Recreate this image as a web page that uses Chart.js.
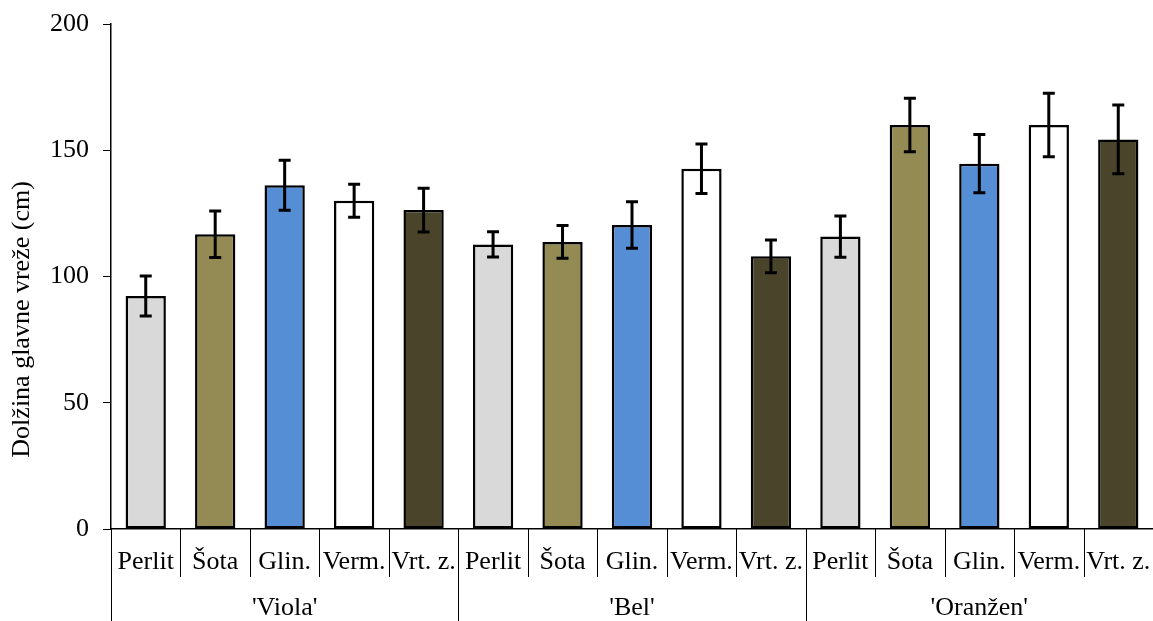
<!DOCTYPE html>
<html lang="sl">
<head>
    <meta charset="UTF-8">
    <title>Dolžina glavne vreže</title>
    <script src="https://cdn.jsdelivr.net/npm/chart.js"></script>
    <style>
        body { margin: 0; background: #fff; }
        #wrap { width: 1153px; height: 621px; }
    </style>
</head>
<body>
    <div id="wrap"><canvas id="vrezaChart"></canvas></div>

    <script>
        // podatki (odčitani s slike)
        const groups = ["'Viola'", "'Bel'", "'Oranžen'"];
        const substrates = ['Perlit', 'Šota', 'Glin.', 'Verm.', 'Vrt. z.'];
        const violaValues = [92.3, 116.7, 136.1, 130.0, 126.3];
        const violaErrors = [7.9, 9.2, 9.9, 6.5, 8.7];
        const belValues = [112.7, 113.7, 120.4, 142.7, 108.0];
        const belErrors = [5.0, 6.5, 9.2, 9.8, 6.5];
        const oranzenValues = [115.8, 160.0, 144.7, 160.0, 154.3];
        const oranzenErrors = [8.2, 10.6, 11.5, 12.6, 13.6];
        const yTicks = [0, 50, 100, 150, 200];
        const yTitle = 'Dolžina glavne vreže (cm)';

        const substrateColors = ['#d9d9d9', '#948a54', '#558ed5', '#ffffff', '#4a452a'];
        const font = 'Liberation Serif';

        const labels = [].concat(substrates, substrates, substrates);
        const values = [].concat(violaValues, belValues, oranzenValues);
        const errors = [].concat(violaErrors, belErrors, oranzenErrors);
        const colors = [].concat(substrateColors, substrateColors, substrateColors);

        // error bars
        const errorBars = {
            id: 'errorBars',
            afterDatasetsDraw(chart) {
                const ctx = chart.ctx;
                const y = chart.scales.y;
                const meta = chart.getDatasetMeta(0);
                ctx.save();
                ctx.strokeStyle = '#000';
                ctx.lineWidth = 3;
                meta.data.forEach((bar, i) => {
                    const top = y.getPixelForValue(values[i] + errors[i]);
                    const bot = y.getPixelForValue(values[i] - errors[i]);
                    ctx.beginPath();
                    ctx.moveTo(bar.x, top); ctx.lineTo(bar.x, bot);
                    ctx.moveTo(bar.x - 6, top); ctx.lineTo(bar.x + 6, top);
                    ctx.moveTo(bar.x - 6, bot); ctx.lineTo(bar.x + 6, bot);
                    ctx.stroke();
                });
                ctx.restore();
            }
        };

        // separators under the x axis, group names, y title
        const groupAxis = {
            id: 'groupAxis',
            afterDraw(chart) {
                const ctx = chart.ctx;
                const x = chart.scales.x;
                const y = chart.scales.y;
                const base = chart.chartArea.bottom;
                const n = labels.length;
                const step = (x.right - x.left) / n;
                ctx.save();
                ctx.strokeStyle = '#000';
                ctx.lineWidth = 1;
                for (let i = 0; i <= n; i++) {
                    const px = Math.round(x.left + i * step) + 0.5;
                    const long = i % substrates.length === 0;
                    ctx.beginPath();
                    ctx.moveTo(px, base);
                    ctx.lineTo(px, long ? chart.height : base + 48);
                    ctx.stroke();
                }
                ctx.fillStyle = '#000';
                ctx.font = '26px "' + font + '"';
                ctx.textAlign = 'center';
                ctx.textBaseline = 'middle';
                groups.forEach((g, gi) => {
                    const cx = x.left + (gi * substrates.length + substrates.length / 2) * step;
                    ctx.fillText(g, cx, base + 79);
                });
                // y title, placed a bit below the middle like in the original
                ctx.translate(22, y.getPixelForValue(83));
                ctx.rotate(-Math.PI / 2);
                ctx.fillText(yTitle, 0, 0);
                ctx.restore();
            }
        };

        new Chart(document.getElementById('vrezaChart'), {
            type: 'bar',
            data: {
                labels: labels,
                datasets: [{
                    data: values,
                    backgroundColor: colors,
                    borderColor: '#000',
                    borderWidth: 2.5,
                    borderSkipped: false,
                    barPercentage: 0.58,
                    categoryPercentage: 1
                }]
            },
            options: {
                responsive: true,
                maintainAspectRatio: false,
                animation: false,
                layout: { padding: { top: 24, right: 0, bottom: 0, left: 0 } },
                plugins: {
                    legend: { display: false },
                    tooltip: { enabled: false }
                },
                scales: {
                    x: {
                        offset: true,
                        grid: { display: false, drawTicks: false },
                        border: { display: true, color: '#000', width: 1.5 },
                        ticks: {
                            color: '#000',
                            font: { family: font, size: 26 },
                            padding: 18,
                            maxRotation: 0,
                            autoSkip: false
                        },
                        afterFit(scale) {
                            scale.height = 92;
                            scale.paddingLeft = 0;
                            scale.paddingRight = 0;
                        }
                    },
                    y: {
                        min: 0,
                        max: 200,
                        afterBuildTicks(scale) { scale.ticks = yTicks.map(v => ({ value: v })); },
                        grid: { drawOnChartArea: false, drawTicks: true, tickLength: 8, color: '#000' },
                        border: { display: true, color: '#000', width: 1.5 },
                        ticks: {
                            color: '#000',
                            font: { family: font, size: 26 },
                            padding: 14
                        },
                        afterFit(scale) {
                            scale.width = 111;
                            scale.paddingTop = 0;
                            scale.paddingBottom = 0;
                        }
                    }
                }
            },
            plugins: [errorBars, groupAxis]
        });
    </script>
</body>
</html>
